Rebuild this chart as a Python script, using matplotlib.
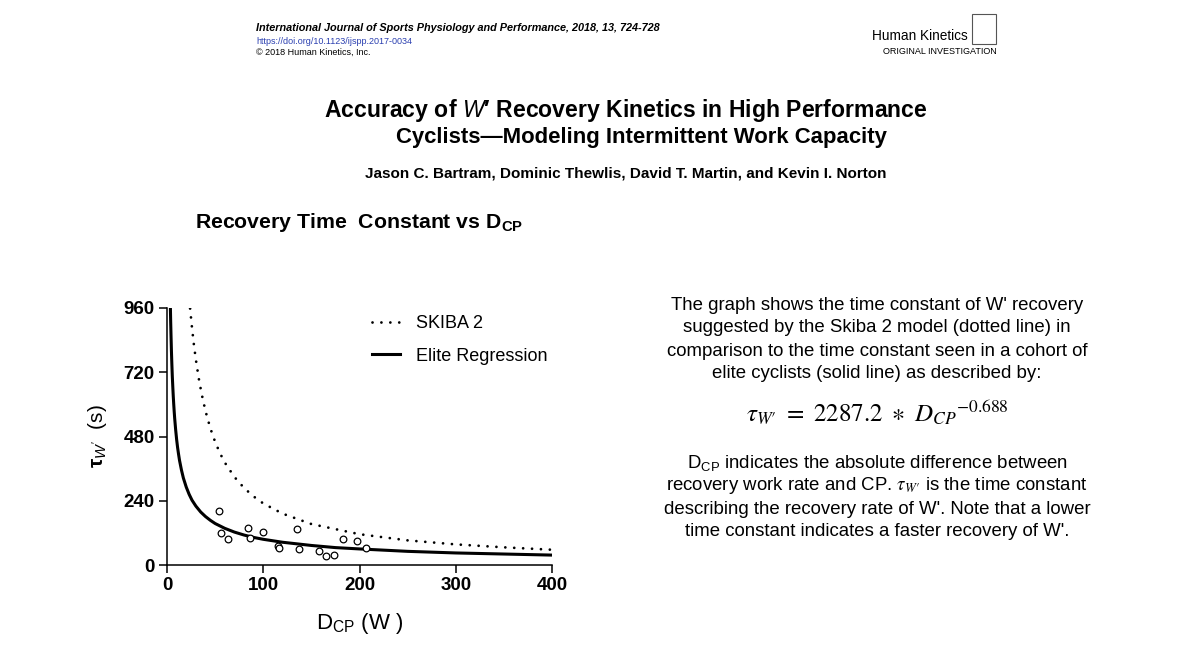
import matplotlib
matplotlib.use('Agg')
import matplotlib.pyplot as plt
from matplotlib.patches import Rectangle

plt.rcParams['font.family'] = ['Liberation Sans', 'DejaVu Sans']
plt.rcParams['mathtext.fontset'] = 'custom'
plt.rcParams['mathtext.rm'] = 'Liberation Sans'
plt.rcParams['mathtext.it'] = 'Liberation Sans:italic'
plt.rcParams['mathtext.bf'] = 'Liberation Sans:bold'

obs_dcp = [54, 56, 63, 84, 86, 100, 115, 116, 135, 137, 158, 165, 174, 183, 197, 207]
obs_tau = [200, 118, 97, 140, 101, 125, 71, 65, 133, 60, 52, 35, 39, 96, 91, 62]

# elite regression curve
elite_dcp = [3.5, 3.8, 4.2, 4.6, 5, 5.5, 6, 6.5, 7, 7.5, 8, 9, 10, 11, 12, 13,
             15, 17, 20, 23, 26, 30, 35, 40, 45, 50, 60, 70, 80, 90,
             100, 120, 150, 175, 200, 250, 300, 350, 400]
elite_tau = [966, 912, 853, 800, 755, 706, 667, 631, 600, 572, 547, 505, 469,
             439, 414, 391, 355, 325, 291, 264, 242, 220, 198, 181, 167,
             155, 137, 123, 112, 103, 96, 85, 73, 65, 60, 51, 45, 41, 37]

# Skiba 2 curve
skiba_dcp = [24, 26, 28, 30, 33, 36, 40, 45, 50, 55, 60, 70, 80, 90, 100, 120,
             150, 200, 250, 300, 350, 400]
skiba_tau = [958, 885, 821, 767, 697, 639, 575, 511, 460, 418, 383, 329, 288,
             256, 230, 192, 153, 115, 92, 77, 66, 57]

xticks = [0, 100, 200, 300, 400]
yticks = [0, 240, 480, 720, 960]

fig = plt.figure(figsize=(11.94, 6.72), dpi=100)
fig.patch.set_facecolor('white')

# header of the paper
fig.text(256/1194, 1 - 28/672, 'International Journal of Sports Physiology and Performance, 2018, 13, 724-728',
         fontsize=7.85, style='italic', fontweight='bold', va='center', ha='left')
fig.text(256/1194, 1 - 41/672, 'https://doi.org/10.1123/ijspp.2017-0034',
         fontsize=6.5, color='#2a3fb0', va='center', ha='left')
fig.text(256/1194, 1 - 52/672, '\u00a9 2018 Human Kinetics, Inc.',
         fontsize=6.5, va='center', ha='left')
fig.text(968/1194, 1 - 36/672, 'Human Kinetics', fontsize=9.8, va='center', ha='right')
fig.text(997/1194, 1 - 52/672, 'ORIGINAL INVESTIGATION', fontsize=6.5, va='center', ha='right')
fig.patches.append(Rectangle((972/1194, 1 - 44/672), 24/1194, 30/672, fill=False,
                             edgecolor='#555555', linewidth=0.8, transform=fig.transFigure))

fig.text(626/1194, 1 - 110/672, 'Accuracy of $\\mathbf{\\mathit{W}\u2032}$ Recovery Kinetics in High Performance',
         fontsize=16.6, fontweight='bold', ha='center', va='center')
fig.text(641/1194, 1 - 137/672, 'Cyclists\u2014Modeling Intermittent Work Capacity',
         fontsize=15.9, fontweight='bold', ha='center', va='center')
fig.text(626/1194, 1 - 174/672, 'Jason C. Bartram, Dominic Thewlis, David T. Martin, and Kevin I. Norton',
         fontsize=11, fontweight='bold', ha='center', va='center')

# chart title
fig.text(195/1194, 1 - 223/672, 'Recovery Time  Constant vs D$_{\\mathbf{CP}}$',
         fontsize=15.3, fontweight='bold', ha='left', va='center')

ax = fig.add_axes([167/1194, 107/672, 385/1194, 257/672])
ax.plot(skiba_dcp, skiba_tau, color='black', linewidth=2.0,
        linestyle=(0, (0.01, 3.2)), dash_capstyle='round', label='SKIBA 2')
ax.plot(elite_dcp, elite_tau, color='black', linewidth=2.2, label='Elite Regression')
ax.plot(obs_dcp, obs_tau, linestyle='none', marker='o', markersize=4.8,
        markerfacecolor='white', markeredgecolor='black', markeredgewidth=0.9)

ax.set_xlim(0, 400)
ax.set_ylim(0, 960)
ax.set_xticks(xticks)
ax.set_yticks(yticks)
for s in ['top', 'right']:
    ax.spines[s].set_visible(False)
for s in ['left', 'bottom']:
    ax.spines[s].set_linewidth(1.1)
ax.tick_params(width=1.1, length=6, direction='out', labelsize=13.5, pad=3)
for lab in ax.get_xticklabels() + ax.get_yticklabels():
    lab.set_fontweight('bold')

ax.set_xlabel('D$_{\\mathrm{CP}}$ (W )', fontsize=16, labelpad=12)
ax.set_ylabel('$\\mathbf{\\tau}_{W\'}$  (s)', fontsize=15, labelpad=10)

ax.legend(loc='upper left', bbox_to_anchor=(0.49, 1.035), frameon=False,
          fontsize=13, handlelength=1.55, handletextpad=0.9, labelspacing=0.85)

# explanation on the right
rx = 877/1194
lines1 = ["The graph shows the time constant of W' recovery",
          'suggested by the Skiba 2 model (dotted line) in',
          'comparison to the time constant seen in a cohort of',
          'elite cyclists (solid line) as described by:']
for i, t in enumerate(lines1):
    fig.text(rx, 1 - (305 + 23*i)/672, t, fontsize=13.4, ha='center', va='center')

fig.text(rx, 1 - 413/672, r'$\tau_{W\prime}\ =\ 2287.2\ \ast\ {D_{CP}}^{-0.688}$',
         fontsize=18, ha='center', va='center', math_fontfamily='stix')

lines2 = ['D$_{\\mathrm{CP}}$ indicates the absolute difference between',
          'recovery work rate and CP. $\\tau_{W\\prime}$ is the time constant',
          "describing the recovery rate of W'. Note that a lower",
          "time constant indicates a faster recovery of W'."]
for i, t in enumerate(lines2):
    fig.text(rx, 1 - (463 + 23*i)/672, t, fontsize=13.4, ha='center', va='center',
             math_fontfamily='stix' if i == 1 else 'custom')

fig.savefig('out.png', dpi=100, facecolor='white')
